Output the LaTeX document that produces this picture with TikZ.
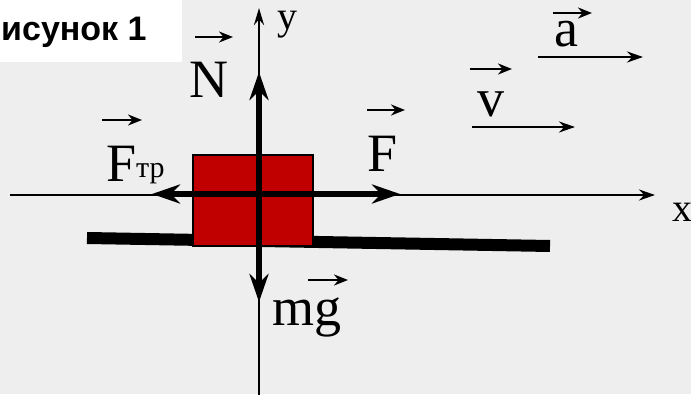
\documentclass[tikz,border=0pt]{standalone}
\usepackage{fontspec}
\setmainfont{Liberation Serif}
\newfontfamily\capfont{Liberation Sans}
\usetikzlibrary{arrows.meta,calc}
\definecolor{paper}{RGB}{238,238,238}
\definecolor{brick}{RGB}{192,0,0}
\begin{document}
\begin{tikzpicture}[x=1pt, y=1pt,
  axisline/.style={line width=2.5pt, -{Stealth[length=16pt, width=11pt]}},
  force/.style={line width=5.5pt, -{Stealth[length=28pt, width=19pt]}},
  overvec/.style={line width=2.8pt, -{Stealth[length=14pt, width=11pt]}},
  lbl/.style={inner sep=0pt, anchor=base west, font=\fontsize{54}{54}\selectfont},
  axlbl/.style={inner sep=0pt, anchor=base west, font=\fontsize{40}{40}\selectfont}]
  \def\cx{259}
  \def\cy{200}
  \fill[paper] (0,0) rectangle (691,394);
  \useasboundingbox (0,0) rectangle (691,394);
  \fill[white] (0,332) rectangle (182,394);
  \node[inner sep=0pt, anchor=base west, font=\capfont\bfseries\fontsize{34}{34}\selectfont]
    (caption) at (1,353) {исунок 1};
  \coordinate (O) at (\cx,\cy);
  \coordinate (groundL) at (87,156);
  \coordinate (groundR) at (550,148);
  \coordinate (xstart) at (10,199);
  \coordinate (xend) at (655,199);
  \coordinate (ystart) at (\cx,-2);
  \coordinate (yend) at (\cx,386);
  \coordinate (Ntip) at (\cx,322);
  \coordinate (Ftip) at (400,\cy);
  \coordinate (Ftrtip) at (152,\cy);
  \coordinate (mgtip) at (\cx,92);
  \coordinate (vtail) at (472,267);
  \coordinate (vtip) at (575,267);
  \coordinate (atail) at (538,337);
  \coordinate (atip) at (643,337);
  \draw[line width=12pt] (groundL) -- (groundR);
  \draw[axisline] (xstart) -- (xend);
  \draw[axisline, -{Stealth[length=17pt, width=10pt]}] (ystart) -- (yend);
  \node[draw, line width=1.3pt, fill=brick, inner sep=0pt, minimum width=120pt,
    minimum height=91pt] (block) at (253,193.5) {};
  \draw[force] (O) -- (Ntip);
  \draw[force] (O) -- (Ftip);
  \draw[force] (O) -- (Ftrtip);
  \draw[force] (O) -- (mgtip);
  \draw[axisline] (vtail) -- (vtip);
  \draw[axisline] (atail) -- (atip);
  \node[axlbl] (ylabel) at (277,364) {y};
  \node[axlbl] (xlabel) at (672,172) {x};
  \node[lbl] (N) at (189,296) {N};
  \node[lbl] (F) at (367,222) {F};
  \node[lbl] (Ftr) at (106,212) {F{\fontsize{30}{30}\selectfont\raisebox{4pt}{тр}}};
  \node[lbl] (mg) at (272,69) {mg};
  \node[lbl] (v) at (477,277) {v};
  \node[lbl] (a) at (554,347) {a};
  \draw[overvec] ($(N.base west)+(6,61)$) -- ++(38,0);
  \draw[overvec] ($(F.base west)+(0,62)$) -- ++(38,0);
  \draw[overvec] ($(Ftr.base west)+(-4,62)$) -- ++(40,0);
  \draw[overvec] ($(mg.base west)+(36,45)$) -- ++(40,0);
  \draw[overvec] ($(v.base west)+(-7,48)$) -- ++(42,0);
  \draw[overvec] ($(a.base west)+(-1,34)$) -- ++(39,0);
\end{tikzpicture}
\end{document}
